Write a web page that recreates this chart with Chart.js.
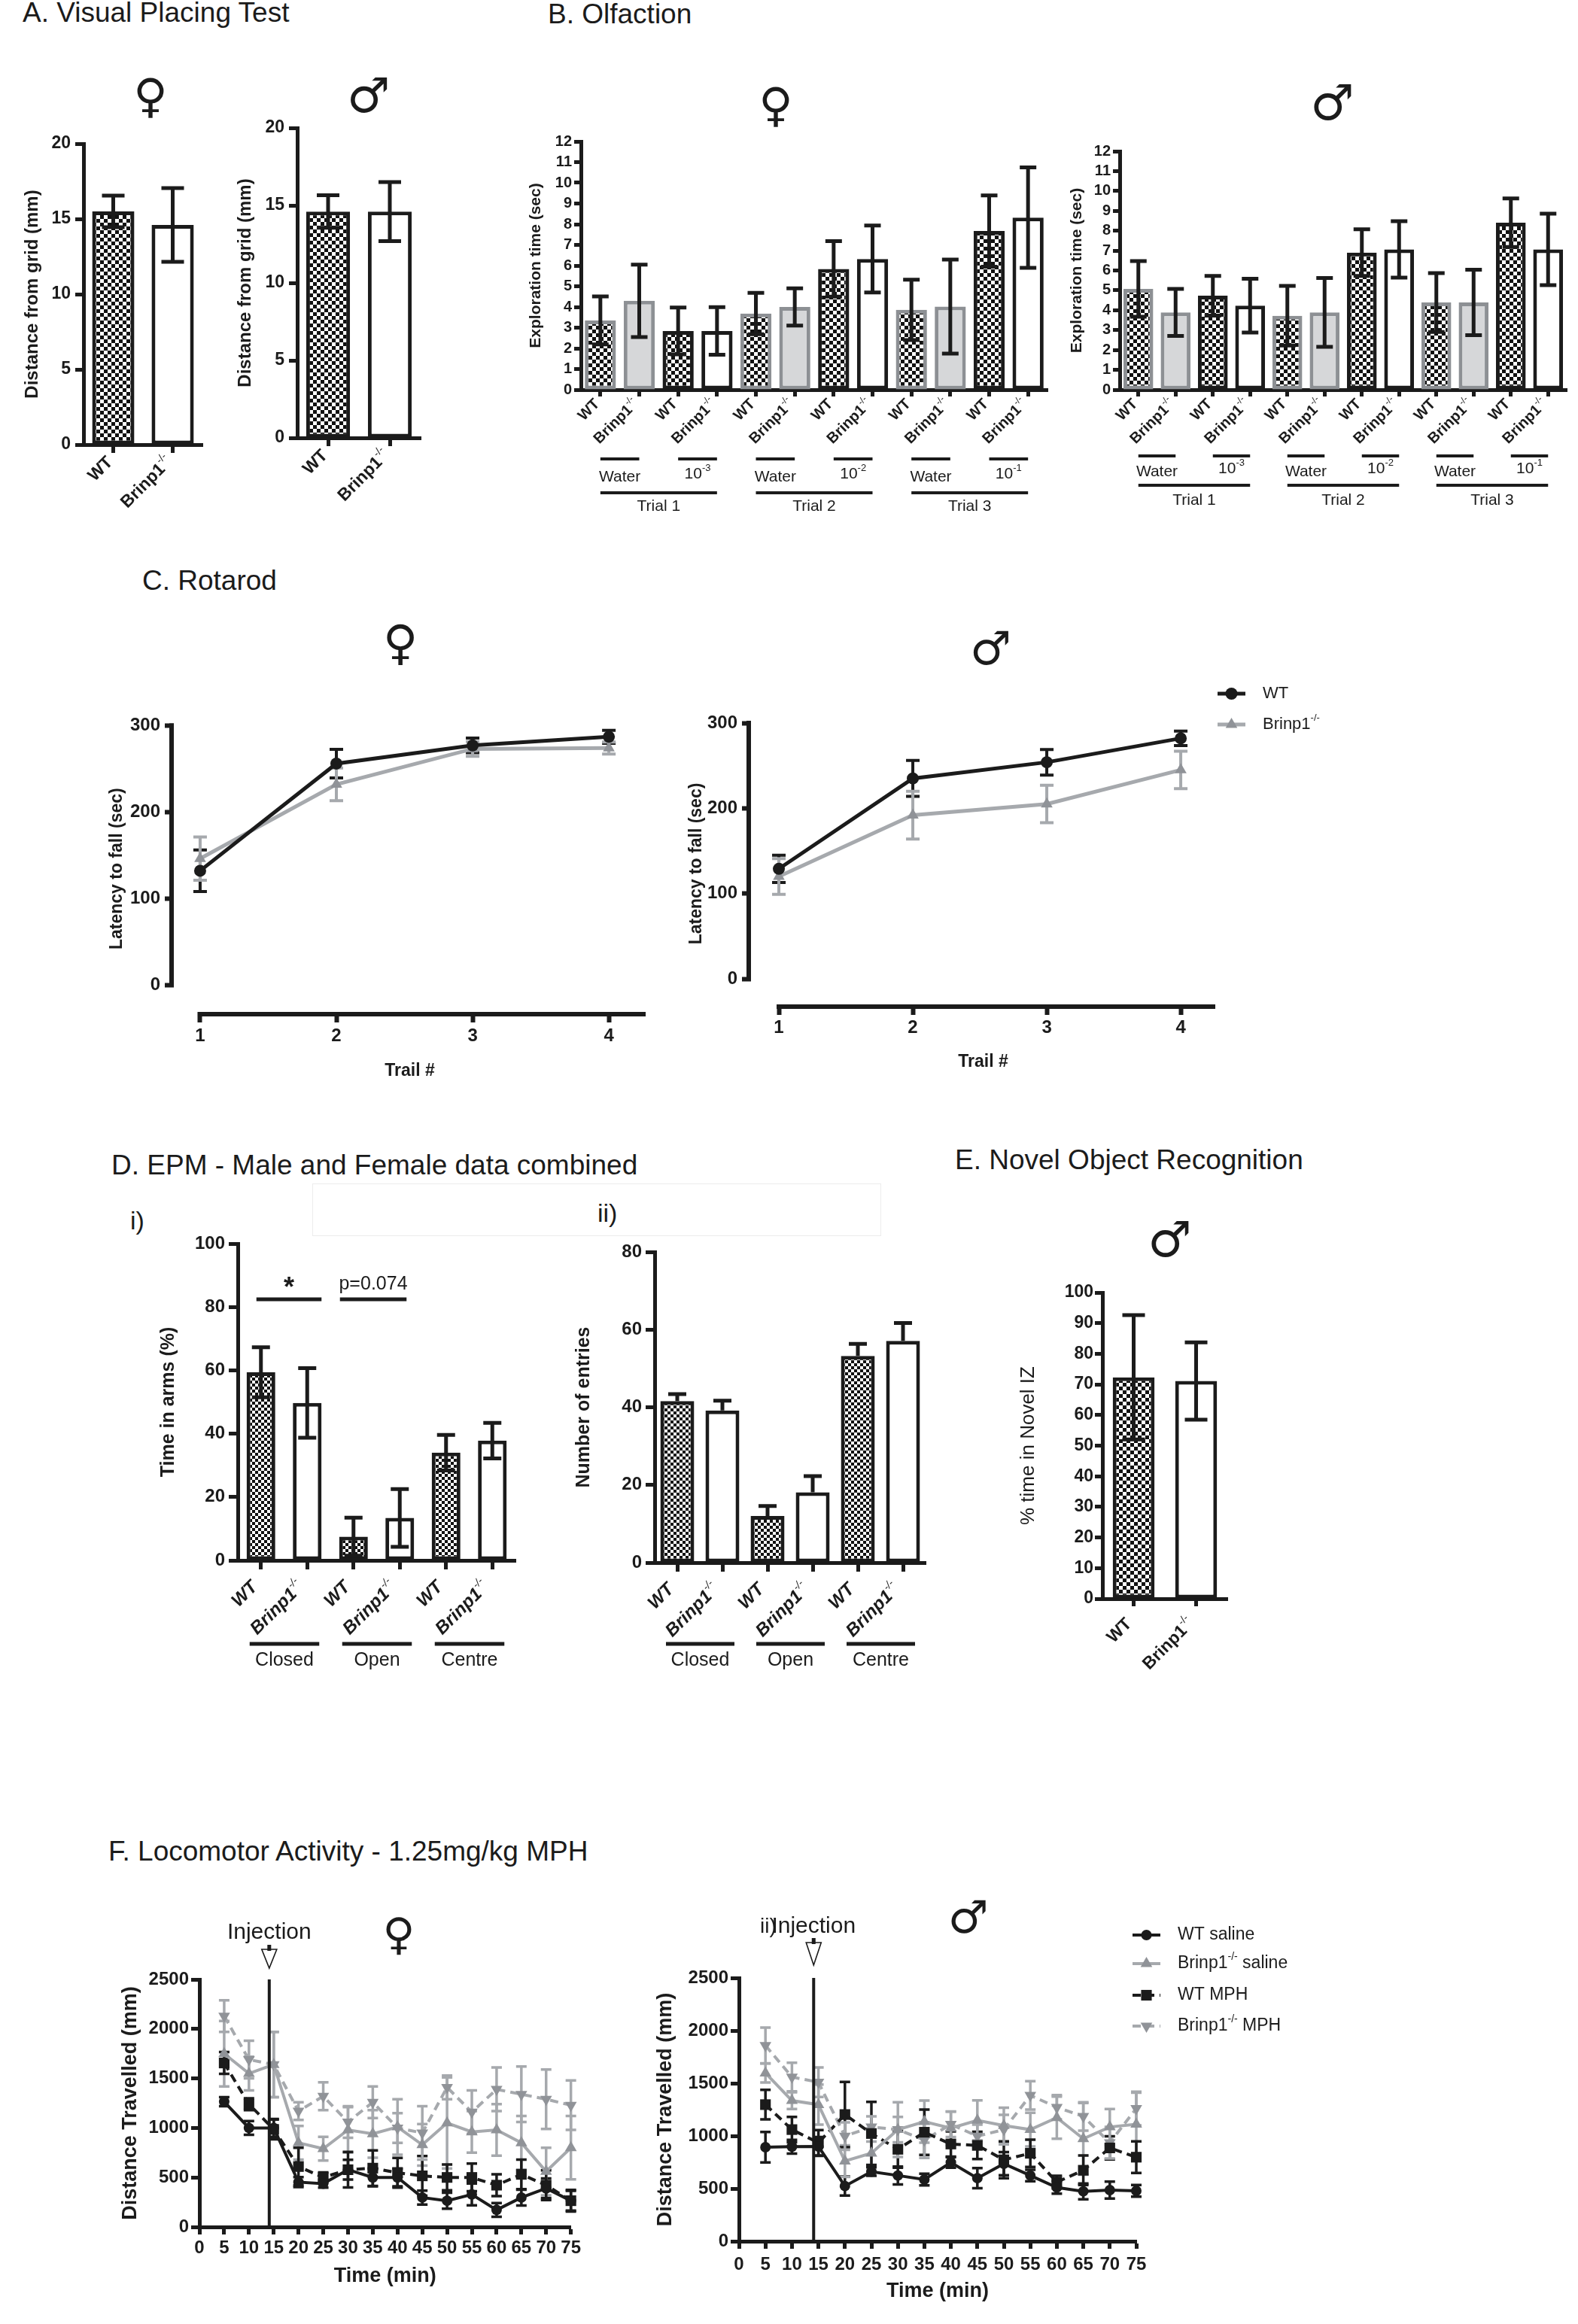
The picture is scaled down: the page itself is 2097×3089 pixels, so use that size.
<!DOCTYPE html>
<html>
<head>
<meta charset="utf-8">
<title>Brinp1 behaviour panels</title>
<script src="https://cdn.jsdelivr.net/npm/chart.js@4.4.1/dist/chart.umd.min.js"></script>
<style>
  html, body { margin: 0; padding: 0; background: #fff; }
  body { position: relative; width: 2097px; height: 3089px; overflow: hidden; }
  canvas { position: absolute; }
  .txt { position: absolute; white-space: nowrap; line-height: 1; color: #1b1b1b; font-family: 'Liberation Sans', Arial, sans-serif; }
</style>
</head>
<body>
<div style="position:absolute;left:415px;top:1573px;width:754px;height:68px;border:1px solid #ececec;"></div>
<script>
// ---------- data ----------
const genotypes = ['WT', 'Brinp1^-/-'];

// A. visual placing (mm)
const placingFemale = [15.5, 14.6];
const placingFemaleSem = [1.05, 2.45];
const placingMale = [14.6, 14.6];
const placingMaleSem = [1.05, 1.9];
const placingTicks = [0, 5, 10, 15, 20];

// B. olfaction (sec)
const olfLabels = ['WT', 'Brinp1^-/-', 'WT', 'Brinp1^-/-', 'WT', 'Brinp1^-/-',
                   'WT', 'Brinp1^-/-', 'WT', 'Brinp1^-/-', 'WT', 'Brinp1^-/-'];
const olfOdours = ['Water', '10^-3', 'Water', '10^-2', 'Water', '10^-1'];
const olfTrials = ['Trial 1', 'Trial 2', 'Trial 3'];
const olfFemale = [3.35, 4.3, 2.84, 2.84, 3.68, 4.0, 5.84, 6.32, 3.86, 4.02, 7.67, 8.32];
const olfFemaleSem = [1.16, 1.75, 1.13, 1.15, 1.0, 0.9, 1.34, 1.62, 1.46, 2.27, 1.72, 2.43];
const olfMale = [5.07, 3.89, 4.73, 4.23, 3.72, 3.89, 6.9, 7.06, 4.39, 4.39, 8.4, 7.06];
const olfMaleSem = [1.4, 1.18, 1.0, 1.35, 1.5, 1.73, 1.17, 1.42, 1.48, 1.65, 1.22, 1.8];
const olfTicks = [0, 1, 2, 3, 4, 5, 6, 7, 8, 9, 10, 11, 12];

// C. rotarod (sec)
const trials = [1, 2, 3, 4];
const rotTicks = [0, 100, 200, 300];
const rotFemaleWT = [132, 256, 277, 287];
const rotFemaleWTSem = [24, 16.5, 8.5, 7.5];
const rotFemaleKO = [146, 232, 273, 274];
const rotFemaleKOSem = [25, 19, 8.5, 7];
const rotMaleWT = [129, 235, 254, 282];
const rotMaleWTSem = [16, 21, 15, 8.5];
const rotMaleKO = [120, 192, 205, 245];
const rotMaleKOSem = [21, 28, 22, 22];
const rotLegend = ['WT', 'Brinp1^-/-'];

// D. EPM
const epmLabels = ['WT', 'Brinp1^-/-', 'WT', 'Brinp1^-/-', 'WT', 'Brinp1^-/-'];
const epmArms = ['Closed', 'Open', 'Centre'];
const epmTime = [59.4, 49.7, 7.5, 13.4, 34.0, 37.8];
const epmTimeSem = [7.9, 11, 6, 9.1, 5.6, 5.6];
const epmTimeTicks = [0, 20, 40, 60, 80, 100];
const epmEntries = [41.6, 39.2, 12.0, 18.1, 53.2, 57.1];
const epmEntriesSem = [1.8, 2.5, 2.6, 4.2, 3.1, 4.6];
const epmEntriesTicks = [0, 20, 40, 60, 80];

// E. novel object recognition (%)
const norTime = [72.3, 71.1];
const norSem = [20.3, 12.6];
const norTicks = [0, 10, 20, 30, 40, 50, 60, 70, 80, 90, 100];

// F. locomotor activity (mm)
const minutes = [5, 10, 15, 20, 25, 30, 35, 40, 45, 50, 55, 60, 65, 70, 75];
const minuteTicks = [0, 5, 10, 15, 20, 25, 30, 35, 40, 45, 50, 55, 60, 65, 70, 75];
const distTicks = [0, 500, 1000, 1500, 2000, 2500];
const locoLegend = ['WT saline', 'Brinp1^-/-~ saline', 'WT MPH', 'Brinp1^-/-~ MPH'];
const injectionAt = 14.1;

const locoFemaleWTSal = [1265, 1000, 1000, 453, 437, 578, 500, 500, 297, 265, 328, 172, 297, 390, 265];
const locoFemaleWTSalSem = [45, 70, 90, 50, 40, 100, 90, 90, 70, 80, 110, 70, 80, 100, 100];
const locoFemaleKOSal = [1750, 1550, 1640, 850, 790, 980, 940, 1010, 830, 1050, 960, 980, 850, 560, 800];
const locoFemaleKOSalSem = [330, 170, 330, 170, 120, 230, 240, 280, 210, 460, 210, 260, 270, 240, 320];
const locoFemaleWTMph = [1656, 1240, 985, 610, 500, 578, 594, 547, 516, 500, 500, 422, 531, 422, 265];
const locoFemaleWTMphSem = [110, 60, 100, 190, 50, 180, 180, 150, 200, 130, 140, 110, 150, 150, 110];
const locoFemaleKOMph = [2130, 1690, 1640, 1170, 1320, 1060, 1260, 1000, 950, 1410, 1160, 1390, 1340, 1290, 1230];
const locoFemaleKOMphSem = [160, 190, 330, 90, 140, 160, 160, 150, 270, 120, 220, 220, 280, 300, 250];

const locoMaleWTSal = [893, 898, 900, 524, 661, 624, 586, 748, 599, 736, 624, 511, 474, 486, 479];
const locoMaleWTSalSem = [145, 65, 90, 90, 40, 85, 55, 50, 95, 110, 55, 60, 75, 80, 55];
const locoMaleKOSal = [1597, 1335, 1297, 761, 836, 1060, 1135, 1073, 1148, 1098, 1060, 1173, 973, 1085, 1110];
const locoMaleKOSalSem = [90, 80, 190, 150, 110, 120, 200, 160, 190, 170, 160, 200, 340, 170, 300];
const locoMaleWTMph = [1297, 1060, 935, 1203, 1023, 873, 1035, 923, 910, 773, 835, 561, 674, 886, 798];
const locoMaleWTMphSem = [140, 120, 120, 310, 300, 175, 215, 120, 130, 175, 130, 60, 140, 110, 150];
const locoMaleKOMph = [1859, 1559, 1510, 998, 1085, 1060, 961, 1110, 998, 1060, 1385, 1272, 1185, 935, 1260];
const locoMaleKOMphSem = [170, 135, 140, 130, 100, 260, 170, 120, 110, 140, 135, 115, 135, 150, 160];

// ---------- styling ----------
const INK = '#1b1b1b';
const GREY = '#a6a9ad';
const GREY_MARK = '#909398';
const GREY_FILL = '#d6d7d9';
const GREY_EDGE = '#8d9094';
const FAMILY = "'Liberation Sans', Arial, sans-serif";

Chart.defaults.font.family = FAMILY;
Chart.defaults.color = INK;

function fontStr(f, k) {
  return (f.style || 'normal') + ' ' + (f.weight || 'normal') + ' ' + Math.round(f.size * (k || 1)) + 'px ' + FAMILY;
}

// '^' starts a superscript run, '~' ends it
function richParts(s) {
  const parts = [];
  let cur = '', sup = 0;
  for (const ch of s) {
    if (ch === '^' || ch === '~') {
      if (cur) parts.push([cur, sup]);
      cur = '';
      sup = ch === '^' ? 1 : 0;
    } else {
      cur += ch;
    }
  }
  if (cur) parts.push([cur, sup]);
  return parts;
}

function drawRich(ctx, s, x, y, f, align) {
  const parts = richParts(s);
  const supFont = { size: f.size, style: f.style, weight: 'normal' };
  const widths = parts.map(p => {
    ctx.font = p[1] ? fontStr(supFont, 0.6) : fontStr(f);
    return ctx.measureText(p[0]).width;
  });
  const total = widths.reduce((a, w) => a + w, 0);
  let cx = align === 'right' ? x - total : align === 'center' ? x - total / 2 : x;
  ctx.textAlign = 'left';
  parts.forEach((p, i) => {
    ctx.font = p[1] ? fontStr(supFont, 0.6) : fontStr(f);
    ctx.fillText(p[0], cx, p[1] ? y - f.size * 0.38 : y);
    cx += widths[i];
  });
}

function canvasBox(area, m) {
  return { left: area[0] - m.l, top: area[1] - m.t,
           width: area[2] - area[0] + m.l + m.r, height: area[3] - area[1] + m.t + m.b };
}

function addCanvas(b) {
  const c = document.createElement('canvas');
  c.width = b.width;
  c.height = b.height;
  c.style.left = b.left + 'px';
  c.style.top = b.top + 'px';
  c.style.width = b.width + 'px';
  c.style.height = b.height + 'px';
  document.body.appendChild(c);
  return c;
}

function fixedTicks(values) {
  return scale => { scale.ticks = values.map(v => ({ value: v })); };
}

function checkerTile(cell) {
  const c = document.createElement('canvas');
  c.width = c.height = cell * 2;
  const g = c.getContext('2d');
  g.fillStyle = '#fff';
  g.fillRect(0, 0, cell * 2, cell * 2);
  g.fillStyle = '#111';
  g.fillRect(0, 0, cell, cell);
  g.fillRect(cell, cell, cell, cell);
  return c;
}

// ---------- plugins ----------
function drawErrorBars(chart, behind) {
  const ctx = chart.ctx, ys = chart.scales.y;
  chart.data.datasets.forEach((ds, i) => {
    if (!ds.err || !!ds.errBehind !== behind) return;
    const meta = chart.getDatasetMeta(i);
    ctx.save();
    ctx.strokeStyle = ds.errColor || INK;
    ctx.lineWidth = ds.errWidth || 4;
    ctx.lineCap = 'butt';
    meta.data.forEach((el, j) => {
      const v = typeof ds.data[j] === 'object' ? ds.data[j].y : ds.data[j];
      const e = ds.err[j];
      const top = ys.getPixelForValue(v + e);
      const bot = ds.errMode === 'up' ? ys.getPixelForValue(v) : ys.getPixelForValue(v - e);
      const hw = (ds.capW || 20) / 2;
      ctx.beginPath();
      ctx.moveTo(el.x, top);
      ctx.lineTo(el.x, bot);
      ctx.moveTo(el.x - hw, top);
      ctx.lineTo(el.x + hw, top);
      if (ds.errMode !== 'up') {
        ctx.moveTo(el.x - hw, bot);
        ctx.lineTo(el.x + hw, bot);
      }
      ctx.stroke();
    });
    ctx.restore();
  });
}

Chart.register({
  id: 'errorBars',
  beforeDatasetsDraw(chart) { drawErrorBars(chart, true); },
  afterDatasetsDraw(chart) { drawErrorBars(chart, false); }
});

// rotated category labels (GraphPad style, 45 degrees)
function rotLabels(labels, font, dx, dy) {
  return {
    id: 'rotLabels',
    afterDraw(chart) {
      const ctx = chart.ctx, xs = chart.scales.x, y0 = chart.chartArea.bottom;
      labels.forEach((lab, i) => {
        ctx.save();
        ctx.fillStyle = INK;
        ctx.textBaseline = 'middle';
        ctx.translate(xs.getPixelForValue(i) + dx, y0 + dy);
        ctx.rotate(-Math.PI / 4);
        drawRich(ctx, lab, 0, 0, font, 'right');
        ctx.restore();
      });
    }
  };
}

// bracket lines with a caption, spanning categories a..b (y in page px)
function groupMarks(items, b) {
  return {
    id: 'groupMarks',
    afterDraw(chart) {
      const ctx = chart.ctx, xs = chart.scales.x;
      ctx.save();
      ctx.strokeStyle = INK;
      ctx.fillStyle = INK;
      ctx.textBaseline = 'middle';
      items.forEach(it => {
        const xa = xs.getPixelForValue(it.a) + (it.da || 0);
        const xb = xs.getPixelForValue(it.b) + (it.db || 0);
        ctx.lineWidth = it.line;
        ctx.beginPath();
        ctx.moveTo(xa, it.y - b.top);
        ctx.lineTo(xb, it.y - b.top);
        ctx.stroke();
        drawRich(ctx, it.text, (xa + xb) / 2, it.ty - b.top, it.font, 'center');
      });
      ctx.restore();
    }
  };
}

// detached axes: y line only over [y0, y1], x line from x0 to the right edge
function offsetAxes(y0, y1, x0, w) {
  return {
    id: 'offsetAxes',
    beforeDatasetsDraw(chart) {
      const { ctx, chartArea: a, scales } = chart;
      ctx.save();
      ctx.strokeStyle = INK;
      ctx.lineWidth = w;
      ctx.beginPath();
      ctx.moveTo(a.left - w / 2, scales.y.getPixelForValue(y1) - w / 2);
      ctx.lineTo(a.left - w / 2, scales.y.getPixelForValue(y0) + w / 2);
      ctx.moveTo(scales.x.getPixelForValue(x0) - w / 2, a.bottom + w / 2);
      ctx.lineTo(a.right, a.bottom + w / 2);
      ctx.stroke();
      ctx.restore();
    }
  };
}

function injection(at, topVal, textY, arrowTop, arrowBot, b) {
  return {
    id: 'injection',
    afterDatasetsDraw(chart) {
      const { ctx, chartArea: a, scales } = chart;
      const x = scales.x.getPixelForValue(at);
      ctx.save();
      ctx.strokeStyle = INK;
      ctx.lineWidth = 4;
      ctx.beginPath();
      ctx.moveTo(x, scales.y.getPixelForValue(topVal));
      ctx.lineTo(x, a.bottom);
      ctx.stroke();
      ctx.lineWidth = 1.6;
      ctx.fillStyle = '#fff';
      ctx.beginPath();
      ctx.moveTo(x - 10, arrowTop - b.top);
      ctx.lineTo(x + 10, arrowTop - b.top);
      ctx.lineTo(x, arrowBot - b.top);
      ctx.closePath();
      ctx.fill();
      ctx.stroke();
      ctx.fillStyle = INK;
      ctx.fillRect(x - 2.5, arrowTop - b.top - 6, 5, 8);
      ctx.textBaseline = 'middle';
      drawRich(ctx, 'Injection', x, textY - b.top, { size: 30 }, 'center');
      ctx.restore();
    }
  };
}

function lineLegend(labels, ys, x0, x1, tx, font, b) {
  return {
    id: 'lineLegend',
    afterDraw(chart) {
      const ctx = chart.ctx;
      chart.data.datasets.forEach((ds, i) => {
        const y = ys[i] - b.top, l = x0 - b.left, r = x1 - b.left;
        ctx.save();
        ctx.strokeStyle = ds.borderColor;
        ctx.lineWidth = ds.borderWidth;
        ctx.setLineDash(ds.borderDash || []);
        ctx.beginPath();
        ctx.moveTo(l, y);
        ctx.lineTo(r, y);
        ctx.stroke();
        ctx.setLineDash([]);
        ctx.fillStyle = ds.pointBackgroundColor;
        ctx.strokeStyle = ds.pointBackgroundColor;
        Chart.helpers.drawPoint(ctx, { pointStyle: ds.pointStyle, radius: ds.pointRadius,
          rotation: ds.pointRotation || 0, borderWidth: 0 }, (l + r) / 2, y);
        ctx.fillStyle = INK;
        ctx.textBaseline = 'middle';
        drawRich(ctx, labels[i], tx - b.left, y, font, 'left');
        ctx.restore();
      });
    }
  };
}

// ---------- chart builders ----------
function barChart(o) {
  const b = canvasBox(o.area, o.m);
  const ctx = addCanvas(b).getContext('2d');
  const chk = ctx.createPattern(checkerTile(o.cell), 'repeat');
  const lh = o.yTitleFont.size * 1.2;
  const tickGrid = { display: true, drawOnChartArea: false, drawTicks: true, tickLength: o.tl, tickWidth: o.aw, color: INK };
  const axisLine = { display: true, width: o.aw, color: INK };
  return new Chart(ctx, {
    type: 'bar',
    data: {
      labels: o.labels,
      datasets: [{
        data: o.values, err: o.err, errMode: o.errMode || 'both', errWidth: o.errWidth, capW: o.capW,
        backgroundColor: o.fills.map(f => (f === 'checker' ? chk : f)),
        borderColor: o.edges, borderWidth: o.bw, borderSkipped: false,
        barPercentage: 1, categoryPercentage: o.barPct
      }]
    },
    options: {
      responsive: false, animation: false, events: [],
      layout: { autoPadding: false, padding: { left: 0, top: o.m.t, right: o.m.r, bottom: 0 } },
      plugins: { legend: { display: false }, tooltip: { enabled: false } },
      scales: {
        x: {
          offset: true,
          ticks: { display: false },
          grid: Object.assign({ offset: false }, tickGrid),
          border: axisLine,
          afterFit: s => { s.height = o.m.b; }
        },
        y: {
          min: o.yTicks[0], max: o.yTicks[o.yTicks.length - 1],
          afterBuildTicks: fixedTicks(o.yTicks),
          ticks: { font: o.tickFont, color: INK, padding: o.tickPad, autoSkip: false, callback: v => String(v) },
          grid: tickGrid,
          border: axisLine,
          title: { display: true, text: o.yTitle, font: o.yTitleFont, color: INK,
                   padding: { top: o.yTitleX - b.left - lh / 2, bottom: 0 } },
          afterFit: s => { s.width = o.m.l; }
        }
      }
    },
    plugins: [rotLabels(o.labels, o.labelFont, o.ldx, o.ldy)].concat(o.extra ? o.extra(b) : [])
  });
}

function lineChart(o) {
  const b = canvasBox(o.area, o.m);
  const ctx = addCanvas(b).getContext('2d');
  const lhY = o.yTitleFont.size * 1.2, lhX = o.xTitleFont.size * 1.2;
  const grid = tl => ({ display: true, drawOnChartArea: false, drawTicks: true, tickLength: tl, tickWidth: o.aw, color: INK });
  const axisLine = { display: o.axisLine, width: o.aw, color: INK };
  return new Chart(ctx, {
    type: 'line',
    data: { datasets: o.series },
    options: {
      responsive: false, animation: false, events: [],
      layout: { autoPadding: false, padding: { left: 0, top: o.m.t, right: o.m.r, bottom: 0 } },
      plugins: { legend: { display: false }, tooltip: { enabled: false } },
      elements: { line: { tension: 0 } },
      scales: {
        x: {
          type: 'linear', min: o.xMin, max: o.xMax,
          afterBuildTicks: fixedTicks(o.xTicks),
          ticks: { font: o.tickFont, color: INK, padding: o.xTickPad, autoSkip: false, maxRotation: 0, minRotation: 0,
                   callback: v => String(v) },
          grid: grid(o.tlX),
          border: axisLine,
          title: { display: true, text: o.xTitle, font: o.xTitleFont, color: INK,
                   padding: { top: 0, bottom: b.top + b.height - o.xTitleY - lhX / 2 } },
          afterFit: s => { s.height = o.m.b; }
        },
        y: {
          min: o.yMin, max: o.yMax,
          afterBuildTicks: fixedTicks(o.yTicks),
          ticks: { font: o.tickFont, color: INK, padding: o.yTickPad, autoSkip: false, callback: v => String(v) },
          grid: grid(o.tlY),
          border: axisLine,
          title: { display: true, text: o.yTitle, font: o.yTitleFont, color: INK,
                   padding: { top: o.yTitleX - b.left - lhY / 2, bottom: 0 } },
          afterFit: s => { s.width = o.m.l; }
        }
      }
    },
    plugins: o.extra ? o.extra(b) : []
  });
}

function series(label, xs, ys, err, style) {
  return Object.assign({ label, data: xs.map((x, i) => ({ x, y: ys[i] })), err, clip: false, errBehind: true }, style);
}

// ---------- A. Visual placing ----------
const placingBase = {
  labels: genotypes, fills: ['checker', '#fff'], edges: [INK, INK],
  yTicks: placingTicks, yTitle: 'Distance from grid (mm)', yTitleFont: { size: 24, weight: 'bold' },
  tickFont: { size: 23, weight: 'bold' }, tl: 11, tickPad: 6, aw: 5, bw: 5, barPct: 0.71, cell: 5,
  capW: 30, errWidth: 5, labelFont: { size: 23, weight: 'bold' }, ldx: -4, ldy: 20
};
barChart(Object.assign({}, placingBase, {
  area: [111, 191, 269, 591], m: { l: 93, r: 10, t: 20, b: 100 }, yTitleX: 43,
  values: placingFemale, err: placingFemaleSem
}));
barChart(Object.assign({}, placingBase, {
  area: [395, 170, 559, 582], m: { l: 94, r: 10, t: 20, b: 100 }, yTitleX: 326,
  values: placingMale, err: placingMaleSem
}));

// ---------- B. Olfaction ----------
function olfGroups(pairY, pairTextY, trialY, trialTextY) {
  const items = [];
  olfOdours.forEach((t, k) => items.push({ a: 2 * k, b: 2 * k + 1, y: pairY, line: 4, text: t,
    ty: pairTextY - (k % 2 ? 4 : 0), font: { size: 21 } }));
  olfTrials.forEach((t, k) => items.push({ a: 4 * k, b: 4 * k + 3, y: trialY, line: 4, text: t,
    ty: trialTextY, font: { size: 21 } }));
  return items;
}
const olfBase = {
  labels: olfLabels,
  fills: ['checker', GREY_FILL, 'checker', '#fff', 'checker', GREY_FILL, 'checker', '#fff', 'checker', GREY_FILL, 'checker', '#fff'],
  edges: [GREY_EDGE, GREY_EDGE, INK, INK, GREY_EDGE, GREY_EDGE, INK, INK, GREY_EDGE, GREY_EDGE, INK, INK],
  yTicks: olfTicks, yTitle: 'Exploration time (sec)', yTitleFont: { size: 21, weight: 'bold' },
  tickFont: { size: 20, weight: 'bold' }, tl: 9, tickPad: 3, aw: 5, bw: 5, barPct: 0.8, cell: 5,
  capW: 22, errWidth: 5, labelFont: { size: 20, weight: 'bold' }, ldx: -4, ldy: 16
};
barChart(Object.assign({}, olfBase, {
  area: [772, 188, 1392, 518], m: { l: 85, r: 10, t: 20, b: 180 }, yTitleX: 712,
  values: olfFemale, err: olfFemaleSem,
  extra: b => [groupMarks(olfGroups(610, 634, 655, 673), b)]
}));
barChart(Object.assign({}, olfBase, {
  area: [1488, 201, 2082, 518], m: { l: 82, r: 10, t: 20, b: 170 }, yTitleX: 1431,
  values: olfMale, err: olfMaleSem,
  extra: b => [groupMarks(olfGroups(606, 627, 645, 665), b)]
}));

// ---------- C. Rotarod ----------
const rotWTStyle = { borderColor: INK, backgroundColor: INK, borderWidth: 5, pointStyle: 'circle', pointRadius: 8,
  pointBackgroundColor: INK, pointBorderColor: INK, pointBorderWidth: 0, errColor: INK, errWidth: 4, capW: 18 };
const rotKOStyle = { borderColor: GREY, backgroundColor: GREY, borderWidth: 5, pointStyle: 'triangle', pointRadius: 9,
  pointBackgroundColor: GREY_MARK, pointBorderColor: GREY_MARK, pointBorderWidth: 0, errColor: GREY, errWidth: 4, capW: 18 };
const rotBase = {
  xTicks: trials, yMax: 300, yTicks: rotTicks,
  yTitle: 'Latency to fall (sec)', yTitleFont: { size: 23, weight: 'bold' },
  xTitle: 'Trail #', xTitleFont: { size: 23, weight: 'bold' },
  tickFont: { size: 24, weight: 'bold' }, tlX: 14, tlY: 12, yTickPad: 6, aw: 6, axisLine: false
};
lineChart(Object.assign({}, rotBase, {
  area: [231, 964, 858, 1345], m: { l: 100, r: 15, t: 20, b: 102 },
  xMin: 0.807, xMax: 4.27, yMin: -31.3, yTitleX: 156, xTitleY: 1424, xTickPad: 4,
  series: [series('WT', trials, rotFemaleWT, rotFemaleWTSem, rotWTStyle),
           series('Brinp1-/-', trials, rotFemaleKO, rotFemaleKOSem, rotKOStyle)],
  extra: b => [offsetAxes(0, 300, 1, 6)]
}));
lineChart(Object.assign({}, rotBase, {
  area: [998, 961, 1615, 1335], m: { l: 97, r: 200, t: 60, b: 99 },
  xMin: 0.792, xMax: 4.258, yMin: -30, yTitleX: 926, xTitleY: 1412, xTickPad: 3,
  series: [series('WT', trials, rotMaleWT, rotMaleWTSem, rotWTStyle),
           series('Brinp1-/-', trials, rotMaleKO, rotMaleKOSem, rotKOStyle)],
  extra: b => [offsetAxes(0, 300, 1, 6), lineLegend(rotLegend, [922, 963], 1618, 1655, 1678, { size: 22 }, b)]
}));

// ---------- D. EPM ----------
function epmGroups() {
  return epmArms.map((t, k) => ({ a: 2 * k, b: 2 * k + 1, da: -15, db: 16, y: 2185, line: 5, text: t,
    ty: 2207, font: { size: 25 } }));
}
const epmBase = {
  labels: epmLabels, fills: ['checker', '#fff', 'checker', '#fff', 'checker', '#fff'],
  edges: [INK, INK, INK, INK, INK, INK], yTitleFont: { size: 25, weight: 'bold' },
  tickFont: { size: 24, weight: 'bold' }, tl: 12, tickPad: 5, aw: 5, bw: 5, cell: 4,
  capW: 24, errWidth: 5, labelFont: { size: 24, weight: 'bold', style: 'italic' }, ldx: -8, ldy: 32
};
barChart(Object.assign({}, epmBase, {
  area: [316, 1653, 685, 2074], m: { l: 117, r: 10, t: 70, b: 160 }, yTitleX: 224,
  values: epmTime, err: epmTimeSem, yTicks: epmTimeTicks, yTitle: 'Time in arms (%)', barPct: 0.62,
  extra: b => [groupMarks(epmGroups().concat([
    { a: 0, b: 1, da: -6, db: 19, y: 1727, line: 5, text: '*', ty: 1713, font: { size: 36, weight: 'bold' } },
    { a: 2, b: 3, da: -18, db: 9, y: 1727, line: 5, text: 'p=0.074', ty: 1707, font: { size: 25 } }
  ]), b)]
}));
barChart(Object.assign({}, epmBase, {
  area: [870, 1664, 1230, 2077], m: { l: 119, r: 10, t: 20, b: 155 }, yTitleX: 776,
  values: epmEntries, err: epmEntriesSem, errMode: 'up', yTicks: epmEntriesTicks, yTitle: 'Number of entries', barPct: 0.75,
  extra: b => [groupMarks(epmGroups(), b)]
}));

// ---------- E. Novel object recognition ----------
barChart({
  area: [1465, 1718, 1631, 2125], m: { l: 123, r: 10, t: 20, b: 120 }, yTitleX: 1367,
  labels: genotypes, values: norTime, err: norSem, fills: ['checker', '#fff'], edges: [INK, INK],
  yTicks: norTicks, yTitle: '% time in Novel IZ', yTitleFont: { size: 26 },
  tickFont: { size: 23, weight: 'bold' }, tl: 10, tickPad: 2, aw: 5, bw: 5, barPct: 0.67, cell: 5,
  capW: 30, errWidth: 5, labelFont: { size: 23, weight: 'bold' }, ldx: -6, ldy: 30
});

// ---------- F. Locomotor activity ----------
const dash = [11, 7];
const wtSalStyle = { borderColor: INK, borderWidth: 4, pointStyle: 'circle', pointRadius: 7,
  pointBackgroundColor: INK, pointBorderColor: INK, pointBorderWidth: 0, errColor: INK, errWidth: 3.5, capW: 14 };
const koSalStyle = { borderColor: GREY, borderWidth: 4, pointStyle: 'triangle', pointRadius: 9,
  pointBackgroundColor: GREY_MARK, pointBorderColor: GREY_MARK, pointBorderWidth: 0, errColor: GREY, errWidth: 3.5, capW: 14 };
const wtMphStyle = { borderColor: INK, borderWidth: 4, borderDash: dash, pointStyle: 'rect', pointRadius: 10,
  pointBackgroundColor: INK, pointBorderColor: INK, pointBorderWidth: 0, errColor: INK, errWidth: 3.5, capW: 14 };
const koMphStyle = { borderColor: GREY, borderWidth: 4, borderDash: dash, pointStyle: 'triangle', pointRotation: 180, pointRadius: 9,
  pointBackgroundColor: GREY_MARK, pointBorderColor: GREY_MARK, pointBorderWidth: 0, errColor: GREY, errWidth: 3.5, capW: 14 };
const locoBase = {
  xMin: 0, xMax: 75, xTicks: minuteTicks, yMin: 0, yMax: 2500, yTicks: distTicks,
  yTitle: 'Distance Travelled (mm)', yTitleFont: { size: 27, weight: 'bold' },
  xTitle: 'Time (min)', xTitleFont: { size: 27, weight: 'bold' },
  tickFont: { size: 24, weight: 'bold' }, tlX: 10, tlY: 11, yTickPad: 3, aw: 5, axisLine: true
};
lineChart(Object.assign({}, locoBase, {
  area: [265, 2631, 761, 2960], m: { l: 116, r: 15, t: 90, b: 90 }, yTitleX: 174, xTitleY: 3026, xTickPad: 4,
  series: [series('WT saline', minutes, locoFemaleWTSal, locoFemaleWTSalSem, wtSalStyle),
           series('Brinp1-/- saline', minutes, locoFemaleKOSal, locoFemaleKOSalSem, koSalStyle),
           series('WT MPH', minutes, locoFemaleWTMph, locoFemaleWTMphSem, wtMphStyle),
           series('Brinp1-/- MPH', minutes, locoFemaleKOMph, locoFemaleKOMphSem, koMphStyle)],
  extra: b => [injection(injectionAt, 2500, 2569, 2591, 2616, b)]
}));
lineChart(Object.assign({}, locoBase, {
  area: [982, 2629, 1510, 2979], m: { l: 122, r: 260, t: 100, b: 91 }, yTitleX: 885, xTitleY: 3046, xTickPad: 7,
  series: [series('WT saline', minutes, locoMaleWTSal, locoMaleWTSalSem, wtSalStyle),
           series('Brinp1-/- saline', minutes, locoMaleKOSal, locoMaleKOSalSem, koSalStyle),
           series('WT MPH', minutes, locoMaleWTMph, locoMaleWTMphSem, wtMphStyle),
           series('Brinp1-/- MPH', minutes, locoMaleKOMph, locoMaleKOMphSem, koMphStyle)],
  extra: b => [injection(injectionAt, 2500, 2561, 2582, 2612, b),
               lineLegend(locoLegend, [2572, 2610, 2652, 2693], 1505, 1542, 1565, { size: 23 }, b)]
}));

// ---------- free text: panel titles, sex symbols, sub-panel marks ----------
function addText(txt, x, baseline, size) {
  const d = document.createElement('div');
  d.className = 'txt';
  d.style.fontSize = size + 'px';
  d.style.left = x + 'px';
  d.style.top = (baseline - 0.8465 * size) + 'px';
  d.textContent = txt;
  document.body.appendChild(d);
}

const probe = document.createElement('canvas').getContext('2d');
function addGlyph(ch, cx, yTop, yBot) {
  probe.font = "100px 'DejaVu Sans'";
  const m = probe.measureText(ch);
  const size = (yBot - yTop) / ((m.actualBoundingBoxAscent + m.actualBoundingBoxDescent) / 100);
  const k = size / 100;
  const d = document.createElement('div');
  d.className = 'txt';
  d.style.fontFamily = "'DejaVu Sans', sans-serif";
  d.style.fontSize = size + 'px';
  d.style.top = (yTop + m.actualBoundingBoxAscent * k - 0.846 * size) + 'px';
  d.style.left = (cx - (m.actualBoundingBoxRight - m.actualBoundingBoxLeft) * k / 2) + 'px';
  d.textContent = ch;
  document.body.appendChild(d);
}

addText('A. Visual Placing Test', 30, 29, 37);
addText('B. Olfaction', 728, 31, 37);
addText('C. Rotarod', 189, 784, 37);
addText('D. EPM - Male and Female data combined', 148, 1561, 37);
addText('E. Novel Object Recognition', 1269, 1554, 37);
addText('F. Locomotor Activity - 1.25mg/kg MPH', 144, 2473, 37);
addText('i)', 173, 1634, 34);
addText('ii)', 794, 1624, 34);
addText('ii)', 1010, 2570, 28);

const FEMALE = '\u2640', MALE = '\u2642';
addGlyph(FEMALE, 200, 104, 158);
addGlyph(MALE, 490, 102, 150);
addGlyph(FEMALE, 1031, 116, 170);
addGlyph(MALE, 1771, 112, 161);
addGlyph(FEMALE, 532, 830, 885);
addGlyph(MALE, 1317, 838, 884);
addGlyph(MALE, 1555, 1623, 1672);
addGlyph(FEMALE, 530, 2548, 2599);
addGlyph(MALE, 1287, 2525, 2570);
</script>
</body>
</html>
